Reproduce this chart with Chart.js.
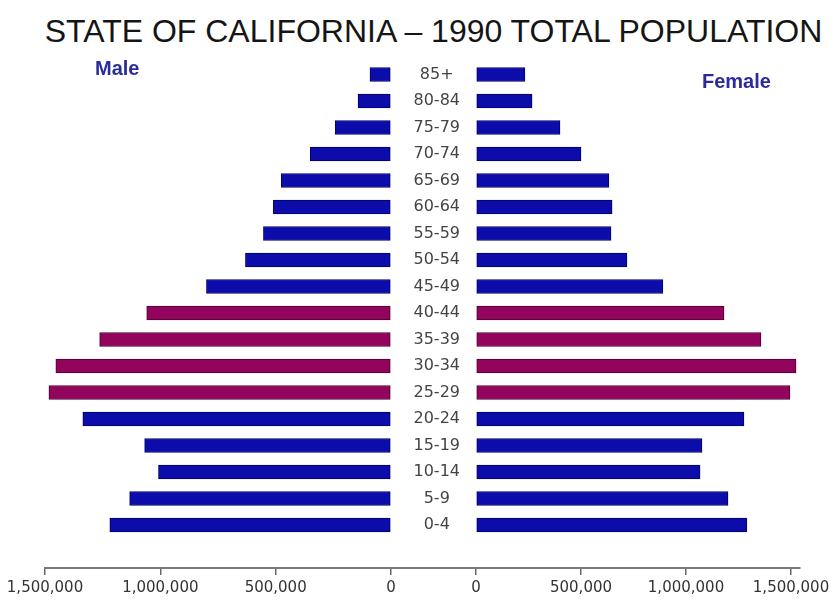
<!DOCTYPE html>
<html>
<head>
<meta charset="utf-8">
<title>State of California - 1990 Total Population</title>
<script src="https://cdn.jsdelivr.net/npm/chart.js@4.4.0/dist/chart.umd.min.js"></script>
<style>
    body { margin: 0; background: #fff; width: 836px; height: 601px; position: relative; overflow: hidden; font-family: "Liberation Sans", Arial, sans-serif; }
    #title { position: absolute; left: 0; top: 15px; width: 867px; text-align: center; font-size: 32px; line-height: 32px; color: #151515; }
    .side { position: absolute; font-size: 20px; line-height: 20px; font-weight: bold; color: #2b2b9c; }
    #male { left: 95px; top: 58px; }
    #female { left: 702px; top: 71px; }
    #maleCanvas { position: absolute; left: 0; top: 0; }
    #femaleCanvas { position: absolute; left: 400px; top: 0; }
</style>
</head>
<body>
<div id="title">STATE OF CALIFORNIA – 1990 TOTAL POPULATION</div>
<canvas id="maleCanvas" width="480" height="601"></canvas>
<canvas id="femaleCanvas" width="436" height="601"></canvas>
<div id="male" class="side">Male</div>
<div id="female" class="side">Female</div>

<script>
var ages = ['85+', '80-84', '75-79', '70-74', '65-69', '60-64', '55-59', '50-54', '45-49',
    '40-44', '35-39', '30-34', '25-29', '20-24', '15-19', '10-14', '5-9', '0-4'];
var male = [91000, 143000, 242000, 350000, 476000, 510000, 553000, 631000, 800000,
    1059000, 1263000, 1453000, 1483000, 1336000, 1068000, 1008000, 1133000, 1219000];
var female = [233000, 267000, 400000, 500000, 633000, 648000, 643000, 719000, 890000,
    1181000, 1357000, 1524000, 1495000, 1276000, 1076000, 1067000, 1200000, 1290000];
// age groups drawn in purple
var boomers = ['40-44', '35-39', '30-34', '25-29'];
var xTicks = [0, 500000, 1000000, 1500000];

function colorsFor(normal, highlight) {
    return ages.map(function (a) {
        return boomers.indexOf(a) >= 0 ? highlight : normal;
    });
}

function xAxis(extra) {
    return Object.assign({
        position: { y: 18.62 },
        grid: { display: true, drawOnChartArea: false, tickLength: 6, color: '#666', lineWidth: 1.5 },
        border: { display: true, color: '#7a7a7a', width: 2 },
        ticks: {
            font: { family: 'DejaVu Sans', size: 15 },
            color: '#333',
            padding: 5,
            maxRotation: 0,
            autoSkip: false,
            callback: function (v) { return Number(v).toLocaleString('en-US'); }
        },
        afterBuildTicks: function (scale) {
            scale.ticks = xTicks.map(function (v) { return { value: v }; });
        }
    }, extra);
}

function dataset(values) {
    return {
        data: values,
        backgroundColor: colorsFor('#0c0cab', '#93045c'),
        borderColor: colorsFor('#00006a', '#4a0030'),
        borderWidth: 1,
        borderSkipped: false,
        barThickness: 14
    };
}

function showMale() {
    new Chart(document.getElementById('maleCanvas'), {
        type: 'bar',
        data: { labels: ages, datasets: [dataset(male)] },
        options: {
            indexAxis: 'y',
            responsive: false,
            animation: false,
            layout: { padding: { left: 45, right: 4, top: 61.25, bottom: 62.75 } },
            plugins: { legend: { display: false }, tooltip: { enabled: false } },
            scales: {
                x: xAxis({ reverse: true, min: -368500, max: 1500000 }),
                y: { display: false }
            }
        }
    });
}

function showFemale() {
    new Chart(document.getElementById('femaleCanvas'), {
        type: 'bar',
        data: { labels: ages, datasets: [dataset(female)] },
        options: {
            indexAxis: 'y',
            responsive: false,
            animation: false,
            layout: { padding: { left: 0, right: 36.6, top: 61.25, bottom: 62.75 } },
            plugins: { legend: { display: false }, tooltip: { enabled: false } },
            scales: {
                x: xAxis({ min: 0, max: 1540000 }),
                y: {
                    grid: { display: false, drawTicks: false },
                    border: { display: false },
                    ticks: {
                        font: { family: 'DejaVu Sans', size: 16 },
                        color: '#444',
                        crossAlign: 'center',
                        padding: 16
                    },
                    afterFit: function (scale) { scale.width = 76; }
                }
            }
        }
    });
}

showMale();
showFemale();
</script>
</body>
</html>
